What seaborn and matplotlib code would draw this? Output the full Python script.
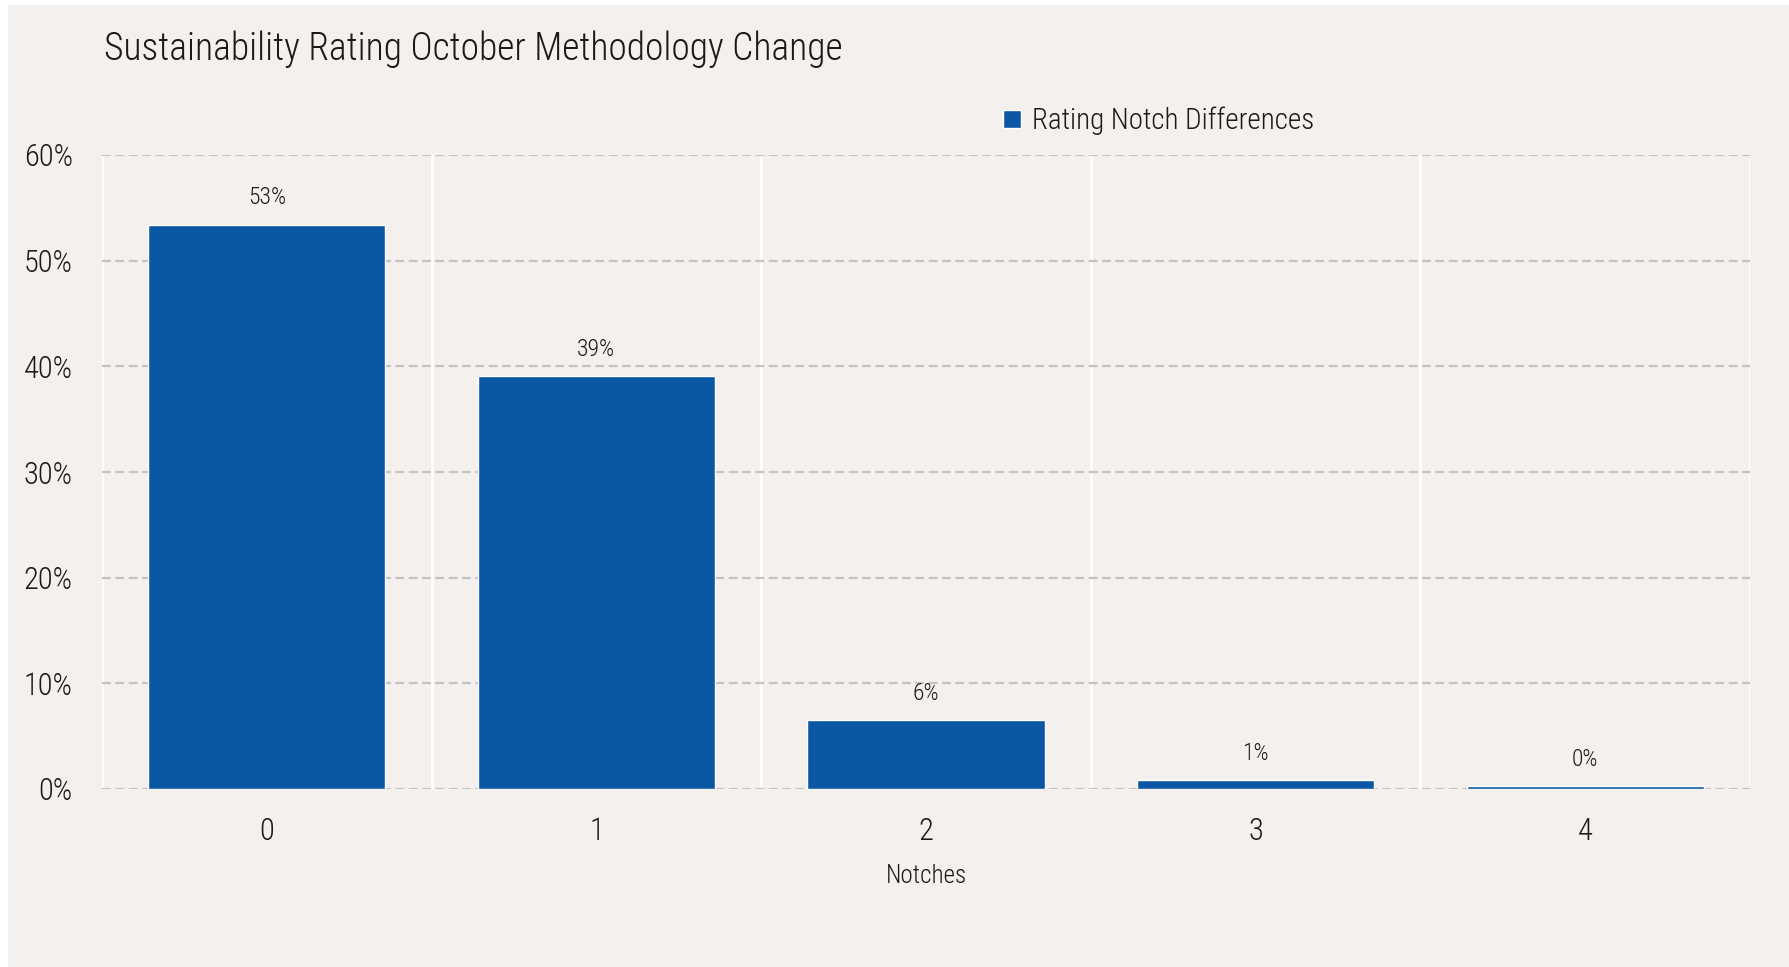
import numpy as np
import pandas as pd
import seaborn as sns
import matplotlib.pyplot as plt
from matplotlib.patches import Rectangle
from matplotlib.ticker import FuncFormatter

# Data
notches = ["0", "1", "2", "3", "4"]
share_pct = [53.4, 39.1, 6.5, 0.85, 0.3]
series_name = "Rating Notch Differences"

title = "Sustainability Rating October Methodology Change"
x_label = "Notches"

BG = "#f3f0ed"
BAR = "#0b57a3"
TXT = "#1a1a1a"

df = pd.DataFrame({"notch": notches, "share": share_pct, "series": series_name})

sns.set_theme(style="white")
plt.rcParams["font.family"] = ["Roboto Condensed", "DejaVu Sans"]
plt.rcParams["font.weight"] = "light"

W, H = 1790, 967
fig = plt.figure(figsize=(W / 100, H / 100), dpi=100, facecolor="white")

# beige panel, white strip on the left and top
fig.patches.append(Rectangle((8 / W, 0), (W - 8) / W, (H - 5) / H,
                             transform=fig.transFigure, facecolor=BG,
                             edgecolor="none", zorder=-1))

ax = fig.add_axes([102 / W, 1 - 789 / H, (1750 - 102) / W, (789 - 155) / H])
ax.patch.set_alpha(0)

sns.barplot(data=df, x="notch", y="share", hue="series", palette=[BAR],
            width=0.72, saturation=1, ax=ax, zorder=3)

ax.set_ylim(0, 60)
ax.set_xlim(-0.5, len(notches) - 0.5)
ax.set_yticks(np.arange(0, 61, 10))
ax.yaxis.set_major_formatter(FuncFormatter(lambda v, p: f"{v:.0f}%"))

# dashed horizontal grid
for v in np.arange(0, 61, 10):
    ax.axhline(v, color="#c3c3c3", lw=1.6, ls=(0, (4, 2)), zorder=2)
# white vertical separators between categories
for b in np.arange(-0.5, len(notches), 1.0):
    ax.axvline(b, color="white", lw=2, zorder=1)

for s in ax.spines.values():
    s.set_visible(False)

ax.tick_params(axis="y", length=0, pad=21, labelsize=22, labelcolor=TXT)
ax.tick_params(axis="x", length=0, pad=20, labelsize=22, labelcolor=TXT)

ax.set_xlabel(x_label, fontsize=18, color=TXT, labelpad=13, fontweight="light")
ax.set_ylabel("")

for c in ax.containers:
    ax.bar_label(c, labels=[f"{v:.0f}%" for v in c.datavalues],
                 padding=11, fontsize=17, color=TXT, fontweight="light")

leg = ax.legend(loc="center left", bbox_to_anchor=(1003 / W, 1 - 121 / H),
                bbox_transform=fig.transFigure, frameon=False, fontsize=21,
                handlelength=0.6, handleheight=0.6, handletextpad=0.4,
                borderaxespad=0, borderpad=0, labelcolor=TXT)

fig.text(104 / W, 1 - 60 / H, title, fontsize=27, color=TXT,
         ha="left", va="baseline")

fig.savefig("out.png", dpi=100, facecolor="white")
